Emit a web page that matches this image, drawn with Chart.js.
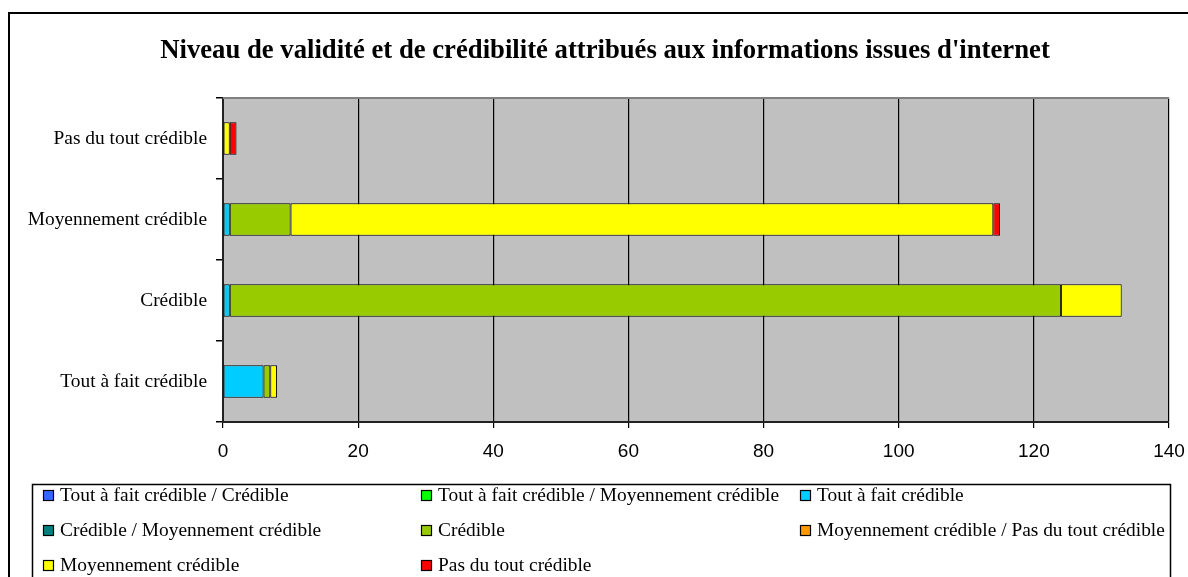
<!DOCTYPE html>
<html>
<head>
<meta charset="utf-8">
<script src="https://cdn.jsdelivr.net/npm/chart.js@4/dist/chart.umd.min.js"></script>
<style>
  html, body { margin: 0; padding: 0; background: #ffffff; }
  #wrap { width: 1188px; height: 577px; position: relative; }
</style>
</head>
<body>
<div id="wrap"><canvas id="c" width="1188" height="577"></canvas></div>
<script>
// Response levels, listed bottom to top on the vertical axis
const categories = ["Tout à fait crédible", "Crédible", "Moyennement crédible", "Pas du tout crédible"];

// Series names (legend order = stacking order)
const seriesNames = [
  "Tout à fait crédible / Crédible",
  "Tout à fait crédible / Moyennement crédible",
  "Tout à fait crédible",
  "Crédible / Moyennement crédible",
  "Crédible",
  "Moyennement crédible / Pas du tout crédible",
  "Moyennement crédible",
  "Pas du tout crédible"
];

// Counts per category, one array per series
const toutCredible        = [0, 0, 0, 0];
const toutMoyen           = [0, 0, 0, 0];
const toutAFait           = [6, 1, 1, 0];
const credibleMoyen       = [0, 0, 0, 0];
const credible            = [1, 123, 9, 0];
const moyenPasDuTout      = [0, 0, 0, 0];
const moyennement         = [1, 9, 104, 1];
const pasDuTout           = [0, 0, 1, 1];

const seriesValues = [toutCredible, toutMoyen, toutAFait, credibleMoyen, credible, moyenPasDuTout, moyennement, pasDuTout];
const seriesColors = ["#3366FF", "#00FF00", "#00CCFF", "#008080", "#99CC00", "#FF9900", "#FFFF00", "#FF0000"];

const xTicks = [0, 20, 40, 60, 80, 100, 120, 140];
const titleText = "Niveau de validité et de crédibilité attribués aux informations issues d'internet";

const serif = "'Liberation Serif', 'Times New Roman', serif";
const sans = "'Liberation Sans', Arial, sans-serif";

const datasets = seriesNames.map((name, i) => ({
  label: name,
  data: seriesValues[i],
  backgroundColor: seriesColors[i],
  borderColor: "#000000",
  borderWidth: (ctx) => (ctx.raw ? 1 : 0),
  borderSkipped: false,
  categoryPercentage: 1.0,
  barPercentage: 0.4
}));

// Page frame, title, plot background and the boxed legend
const decor = {
  id: "decor",
  beforeDraw(chart) {
    const { ctx, chartArea: a } = chart;
    ctx.save();
    ctx.fillStyle = "#ffffff";
    ctx.fillRect(0, 0, chart.width, chart.height);
    // outer frame
    ctx.strokeStyle = "#000000";
    ctx.lineWidth = 2;
    ctx.beginPath();
    ctx.moveTo(9, chart.height + 2);
    ctx.lineTo(9, 13);
    ctx.lineTo(chart.width + 2, 13);
    ctx.stroke();
    // plot background
    ctx.fillStyle = "#C0C0C0";
    ctx.fillRect(a.left, a.top, a.right - a.left, a.bottom - a.top);
    // title
    ctx.fillStyle = "#000000";
    ctx.font = "bold 26.7px " + serif;
    ctx.textAlign = "center";
    ctx.textBaseline = "middle";
    ctx.fillText(titleText, 605, 51);
    ctx.restore();
  },
  afterDraw(chart) {
    const { ctx, chartArea: a } = chart;
    ctx.save();
    // top edge of plot area
    ctx.strokeStyle = "#808080";
    ctx.lineWidth = 2;
    ctx.beginPath();
    ctx.moveTo(a.left, a.top);
    ctx.lineTo(a.right, a.top);
    ctx.stroke();
    // legend box
    ctx.strokeStyle = "#000000";
    ctx.lineWidth = 1.5;
    ctx.strokeRect(32.5, 484.5, 1138, 110);
    const colX = [43, 421, 800];
    const rowY = [495, 530, 565];
    ctx.font = "19.4px " + serif;
    ctx.textAlign = "left";
    ctx.textBaseline = "middle";
    chart.data.datasets.forEach((ds, i) => {
      const x = colX[i % 3];
      const y = rowY[Math.floor(i / 3)];
      ctx.fillStyle = ds.backgroundColor;
      ctx.fillRect(x, y - 5, 11, 11);
      ctx.strokeStyle = "#000000";
      ctx.lineWidth = 1.2;
      ctx.strokeRect(x + 0.5, y - 4.5, 10, 10);
      ctx.fillStyle = "#000000";
      ctx.fillText(ds.label, x + 17, y + 1);
    });
    ctx.restore();
  }
};

new Chart(document.getElementById("c"), {
  type: "bar",
  data: { labels: categories, datasets },
  plugins: [decor],
  options: {
    indexAxis: "y",
    responsive: false,
    animation: false,
    layout: { padding: { left: 0, right: 19, top: 98, bottom: 115 } },
    plugins: {
      legend: { display: false },
      tooltip: { enabled: false },
      title: { display: false }
    },
    scales: {
      x: {
        stacked: true,
        min: 0,
        max: 140,
        afterBuildTicks: (s) => { s.ticks = xTicks.map(v => ({ value: v })); },
        afterFit: (s) => { s.height = 40; s.paddingLeft = 0; s.paddingRight = 0; },
        grid: {
          color: "#000000",
          lineWidth: 1.2,
          drawTicks: true,
          tickLength: 6,
          tickColor: "#000000"
        },
        border: { display: true, color: "#222222", width: 2 },
        ticks: {
          color: "#000000",
          font: { family: sans, size: 19 },
          padding: 12,
          maxRotation: 0
        }
      },
      y: {
        stacked: true,
        reverse: true,
        afterFit: (s) => { s.width = 223; s.paddingTop = 0; s.paddingBottom = 0; },
        grid: {
          offset: true,
          drawOnChartArea: false,
          drawTicks: true,
          tickLength: 7,
          tickColor: "#000000",
          lineWidth: 1.5
        },
        border: { display: true, color: "#222222", width: 2 },
        ticks: {
          color: "#000000",
          font: { family: serif, size: 19.4 },
          padding: 9
        }
      }
    }
  }
});
</script>
</body>
</html>
